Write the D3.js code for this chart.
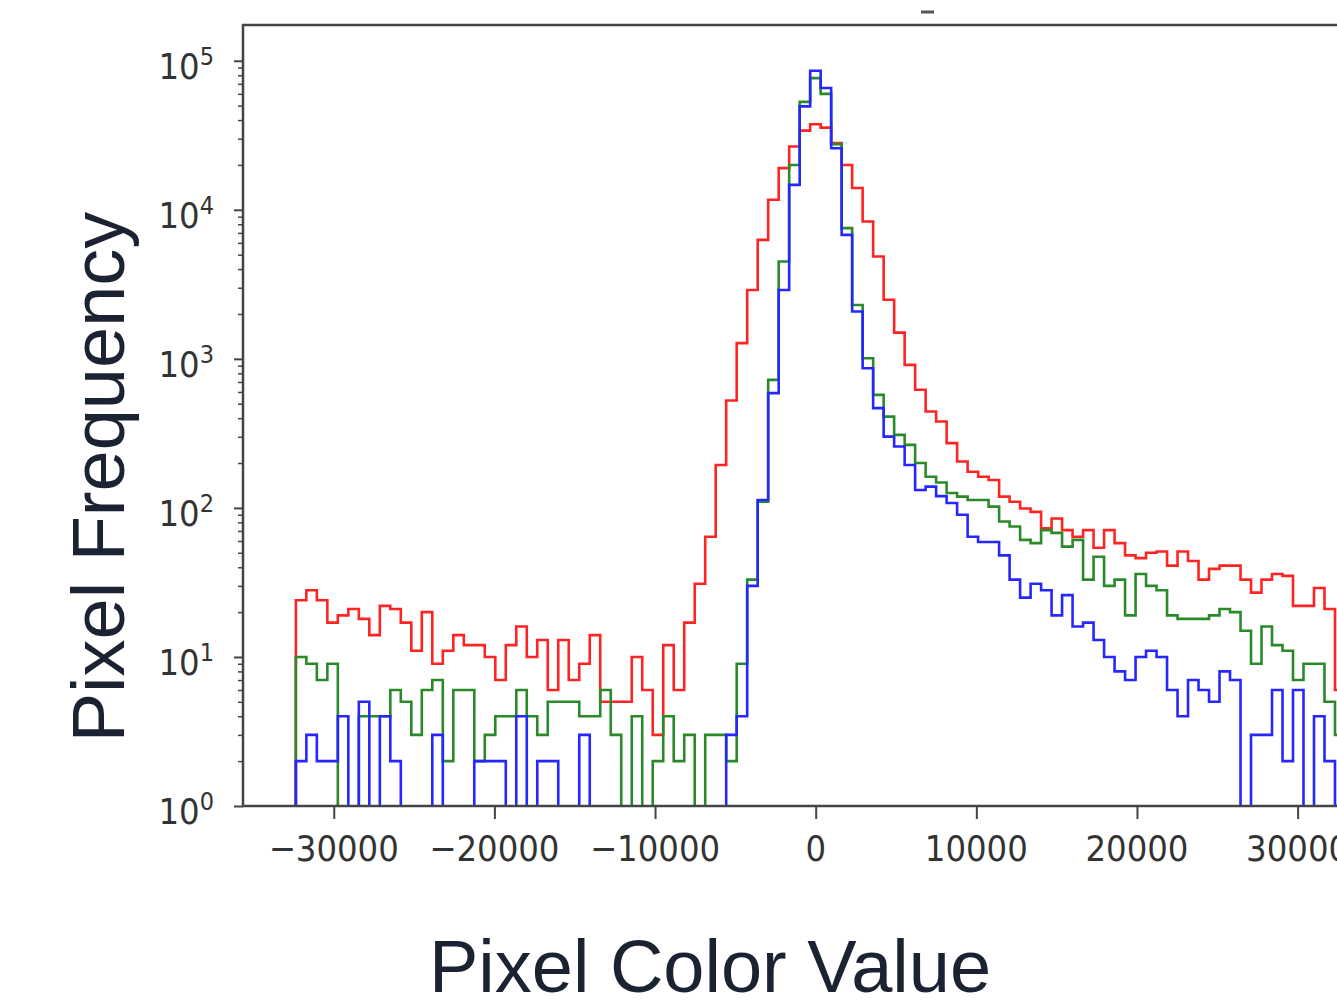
<!DOCTYPE html>
<meta charset="utf-8">
<head>
<style>
  body { margin: 0; background: #fff; }
  .tick-label { font-family: "DejaVu Sans Condensed", "DejaVu Sans", sans-serif; font-stretch: condensed; fill: #333; }
  .axis-title { font-family: "Liberation Sans", Arial, sans-serif; fill: #1b2232; }
</style>
</head>
<body>
    <!-- Load d3.js -->
    <script src="https://d3js.org/d3.v7.js"></script>

    <!-- Create a div where the graph will take place -->
    <div id="my_dataviz"></div>
</body>

<script>
    // 100 equal bins, first edge + width (pixel value units)
    const binStart = -32360, binWidth = 653.4;

    // counts per bin
    const redCounts = [
      24, 28, 24, 17, 19, 21, 18, 14, 22, 21,
      17, 11, 20, 9, 11, 14, 12, 12, 10, 7,
      12, 16, 10, 13, 6, 13, 7, 9, 14, 5,
      5, 5, 10, 6, 3, 12, 6, 17, 31, 64,
      194, 525, 1275, 2900, 6290, 11670, 19050, 26600, 34000, 37500,
      35600, 28000, 20000, 14000, 8350, 4860, 2490, 1500, 912, 620,
      443, 380, 272, 205, 175, 162, 154, 119, 110, 99,
      94, 73, 85, 71, 64, 71, 54, 71, 58, 48,
      46, 50, 51, 41, 51, 44, 33, 39, 41, 41,
      33, 27, 33, 36, 35, 22, 22, 29, 21, 6
    ];
    const greenCounts = [
      10, 9, 7, 9, 0, 0, 4, 4, 4, 6,
      5, 3, 6, 7, 2, 6, 6, 2, 3, 4,
      4, 6, 4, 3, 5, 5, 5, 4, 4, 6,
      3, 0, 4, 0, 2, 4, 2, 3, 0, 3,
      3, 2, 9, 33, 110, 723, 4500, 20000, 53000, 76500,
      60000, 27600, 7540, 2300, 1010, 573, 410, 309, 265, 200,
      162, 148, 126, 119, 113, 113, 102, 81, 75, 61,
      58, 71, 68, 55, 61, 33, 47, 30, 33, 19,
      36, 30, 28, 19, 18, 18, 18, 19, 21, 20,
      15, 9, 16, 12, 11, 7, 9, 9, 5, 3
    ];
    const blueCounts = [
      2, 3, 2, 2, 4, 0, 5, 0, 4, 2,
      0, 0, 0, 3, 0, 0, 0, 2, 2, 2,
      0, 4, 0, 2, 2, 0, 0, 3, 0, 0,
      0, 0, 0, 0, 0, 0, 0, 0, 0, 0,
      0, 3, 4, 30, 113, 589, 2900, 14700, 49400, 85700,
      65600, 25900, 6790, 2080, 866, 467, 301, 258, 194, 132,
      139, 120, 108, 90, 64, 59, 59, 48, 33, 25,
      31, 28, 19, 26, 16, 17, 13, 10, 8, 7,
      10, 11, 10, 6, 4, 7, 6, 5, 8, 7,
      0, 3, 3, 6, 2, 6, 0, 4, 2, 1
    ];

    const xTickValues = [-30000, -20000, -10000, 0, 10000, 20000, 30000];
    const xTickLabels = ["\u221230000", "\u221220000", "\u221210000", "0", "10000", "20000", "30000"];
    const yTickValues = [1, 10, 100, 1000, 10000, 100000];
    const yTickExponents = ["0", "1", "2", "3", "4", "5"];

    // plot frame (right edge runs off the picture)
    const width = 1337, height = 1001;
    const frame = {left: 243, top: 25, right: 1394, bottom: 806};

    const svg = d3.select("#my_dataviz")
      .append("svg")
        .attr("width", width)
        .attr("height", height)
        .style("display", "block");

    const x = d3.scaleLinear()
      .domain([-35650, 36000])
      .range([frame.left, frame.right]);

    const y = d3.scaleLog()
      .domain([1, Math.pow(10, 5.24)])
      .range([frame.bottom, frame.top]);

    svg.append("clipPath")
        .attr("id", "plot-clip")
      .append("rect")
        .attr("x", frame.left)
        .attr("y", frame.top)
        .attr("width", frame.right - frame.left)
        .attr("height", frame.bottom - frame.top);

    // step outline like histtype='step'
    function stepPoints(counts) {
      const base = frame.bottom + 40;
      const yv = v => v > 0 ? y(v) : base;
      const pts = [[x(binStart), base]];
      counts.forEach((v, i) => {
        pts.push([x(binStart + i * binWidth), yv(v)]);
        pts.push([x(binStart + (i + 1) * binWidth), yv(v)]);
      });
      pts.push([x(binStart + counts.length * binWidth), base]);
      return pts;
    }

    const series = [
      {counts: redCounts, color: "#ff2424"},
      {counts: greenCounts, color: "#2a8a2a"},
      {counts: blueCounts, color: "#2626ff"}
    ];

    svg.append("g")
        .attr("clip-path", "url(#plot-clip)")
      .selectAll("path")
      .data(series)
      .join("path")
        .attr("d", d => d3.line()(stepPoints(d.counts)))
        .attr("fill", "none")
        .attr("stroke", d => d.color)
        .attr("stroke-width", 2.6);

    // Add X axis ticks
    svg.append("g")
        .attr("transform", `translate(0, ${frame.bottom})`)
        .call(d3.axisBottom(x).tickValues(xTickValues).tickSize(13).tickSizeOuter(0).tickFormat(""))
        .call(g => g.select(".domain").remove())
        .call(g => g.selectAll(".tick line").attr("stroke", "#444").attr("stroke-width", 2));

    svg.append("g")
      .selectAll("text")
      .data(xTickValues)
      .join("text")
        .attr("class", "tick-label")
        .attr("x", d => x(d))
        .attr("y", 861)
        .attr("text-anchor", "middle")
        .style("font-size", "36px")
        .text((d, i) => xTickLabels[i]);

    // Add Y axis ticks, major and minor
    const yMinor = y.ticks().filter(v => !yTickValues.includes(v));
    svg.append("g")
        .attr("transform", `translate(${frame.left}, 0)`)
        .call(d3.axisLeft(y).tickValues(yMinor).tickSize(5).tickSizeOuter(0).tickFormat(""))
        .call(g => g.select(".domain").remove())
        .call(g => g.selectAll(".tick line").attr("stroke", "#444").attr("stroke-width", 1.5));
    svg.append("g")
        .attr("transform", `translate(${frame.left}, 0)`)
        .call(d3.axisLeft(y).tickValues(yTickValues).tickSize(9).tickSizeOuter(0).tickFormat(""))
        .call(g => g.select(".domain").remove())
        .call(g => g.selectAll(".tick line").attr("stroke", "#444").attr("stroke-width", 2));

    const yLabels = svg.append("g")
      .selectAll("text")
      .data(yTickValues)
      .join("text")
        .attr("class", "tick-label")
        .attr("x", 214)
        .attr("y", d => y(d) + 18)
        .attr("text-anchor", "end")
        .style("font-size", "36px");
    yLabels.append("tspan").text("10");
    yLabels.append("tspan")
        .attr("dy", -14)
        .style("font-size", "25px")
        .text((d, i) => yTickExponents[i]);

    // frame
    svg.append("rect")
        .attr("x", frame.left)
        .attr("y", frame.top)
        .attr("width", frame.right - frame.left)
        .attr("height", frame.bottom - frame.top)
        .attr("fill", "none")
        .attr("stroke", "#444")
        .attr("stroke-width", 2.5);

    // leftover of a cropped title above the frame
    svg.append("path")
        .attr("d", "M921,12 L934,12")
        .attr("stroke", "#555")
        .attr("stroke-width", 3);

    // axis titles
    svg.append("text")
        .attr("class", "axis-title")
        .attr("x", 710)
        .attr("y", 992)
        .attr("text-anchor", "middle")
        .style("font-size", "74px")
        .text("Pixel Color Value");

    svg.append("text")
        .attr("class", "axis-title")
        .attr("transform", "translate(124, 477) rotate(-90)")
        .attr("text-anchor", "middle")
        .style("font-size", "74px")
        .text("Pixel Frequency");
</script>
